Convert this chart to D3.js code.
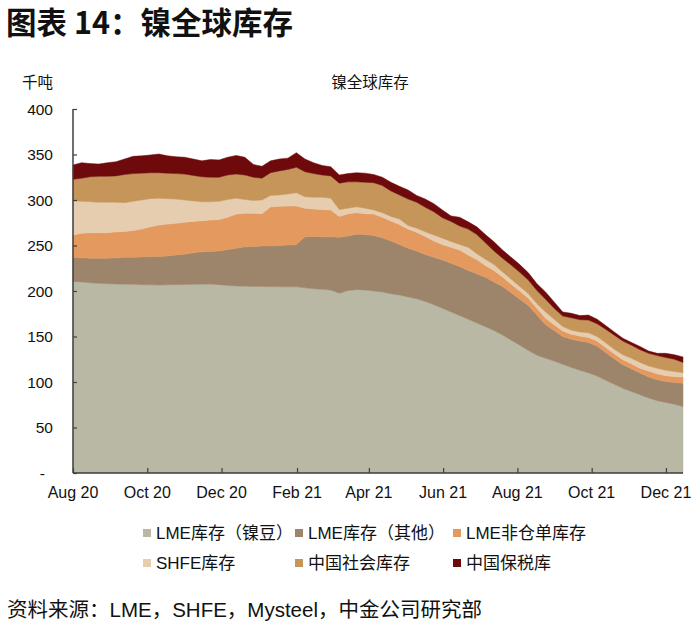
<!DOCTYPE html>
<html>
<head>
<meta charset="utf-8">
<script src="https://cdn.jsdelivr.net/npm/d3@7"></script>
<style>
  html, body { margin: 0; padding: 0; background: #fff; }
  svg { display: block; font-family: "Liberation Sans", Arial, "Noto Sans CJK SC", sans-serif; }
</style>
</head>
<body>
<svg id="chart" width="700" height="626"></svg>
<script>
// ---- Data (千吨), weekly-ish from Aug 2020 to mid-Dec 2021 ----
const seriesNames = ["LME库存（镍豆）", "LME库存（其他）", "LME非仓单库存", "SHFE库存", "中国社会库存", "中国保税库"];
const seriesColors = ["#b9b8a4", "#9d856b", "#e4995f", "#e7cdb0", "#c5955a", "#6e0a0c"];

const lmeBriquette = [210.5,210,209,208.5,208,207.8,207.5,207.3,207,206.8,206.6,206.8,207,207.2,207.3,207.5,207.6,207,206,205.5,
  205.3,205,205,204.8,204.7,204.7,204.6,203.5,202.5,202,201,197.5,200.5,201.5,201,200,199,197,195.6,193.5,
  191.5,188.5,185,181,177,173,169,164.8,160.6,156.5,151.7,146,140.5,134.5,129.5,126,123,119.5,116,113,
  110,106.5,102,97.5,93,89.5,86,82.5,79.5,77.5,75.5,73];
const lmeOther = [26.5,26.5,27,27.5,28,28.7,29.5,29.7,30.5,31,31.4,31.7,32.5,33.3,34.7,35.5,35.9,37,39.5,41.5,
  43.2,44,44.5,44.7,45.3,45.8,46.4,56.2,57.2,57.7,58.5,61.5,60,61,61,61,59.5,58,55.4,53.5,
  52.5,51.5,52,53,53.5,54,53.5,54.2,54.4,53.5,53.3,52,50.5,49.5,44,37,33.5,30.5,31,32,
  33.5,33,30.5,28,26,25,24,23,23,23,24,25.5];
const lmeOffWarrant = [24.5,26.9,28,28,28,28.5,28.5,29.5,30.5,32.7,34.5,35,35,35,34.5,34.3,34.5,34.5,35.5,37.6,
  37,36.5,35.5,43,43,42.8,42.4,31.3,30.3,29.8,29.5,23,24.5,23.5,23,23.6,22.5,22,22,21,
  20.5,20,18,17,17.5,18,17,15.5,13,12.5,10.5,9.5,9,8,7.5,7,6.5,6,5.5,5.5,
  5.5,5.5,5.5,5.5,5.5,5.5,5,6.5,6.5,6.5,6.5,7];
const shfe = [37.5,35.1,34,33.5,33.5,32.5,31.5,32,32,31,29.5,28,26.5,24.5,22.5,20.7,20,20,19.5,17.4,
  15,14,15,12.5,12.5,13.2,14.6,12.5,13,13.5,13,7.5,6,6.5,6,4.4,5,5,6,4,
  4.5,5,6.5,7,6.5,6,8.5,6.5,7,6.5,5.5,5.5,5,5,5,7,6,5,4.5,4.5,
  5,5,5,5,5.5,6,6.5,5.5,6,6,5.5,4.8];
const chinaSocial = [23.7,25.5,27.5,28.5,28.5,29,31,30.5,29.5,28.5,28,28,28,28.5,28,27.5,27,26.5,27,26.5,
  27,25.5,24,25,26.5,27,28,27.5,26,24.5,24.5,29,29,27.5,28.5,30,30,28,26.5,29,
  28.5,27,25.5,22.5,22,20.5,20,21,18,15,15,15.5,15.5,15,14.5,14,12,11.5,13.5,13.5,
  14,14,15,15.5,15,14.5,14,14,14,14,13.5,11.2];
const chinaBonded = [15.8,17,14.5,13.5,15,15.5,17,19,19,19.5,20.5,19,18.5,18.5,18,17.5,19.5,19,19.5,20.5,
  19.5,14,13,13,13,12.5,16,14,12,10.5,10,9,9,10,10,9,9,9.5,9.5,10,
  7.5,9,9,8.5,6,9.5,8,8.5,9,10,9,8.5,8.5,8,7.5,8,7,4.5,5,4.5,
  5.5,5,4,3.5,3,3,3.5,2.5,2.5,4.5,5,6];

const yTickValues = [0, 50, 100, 150, 200, 250, 300, 350, 400];
const yTickLabels = ["-", "50", "100", "150", "200", "250", "300", "350", "400"];
const xTickDates = ["2020-08-01","2020-10-01","2020-12-01","2021-02-01","2021-04-01","2021-06-01","2021-08-01","2021-10-01","2021-12-01"];
const xTickLabels = ["Aug 20","Oct 20","Dec 20","Feb 21","Apr 21","Jun 21","Aug 21","Oct 21","Dec 21"];

const startDate = new Date(2020, 7, 1);
const endDate = new Date(2021, 11, 15);

// ---- Build table ----
const allSeries = [lmeBriquette, lmeOther, lmeOffWarrant, shfe, chinaSocial, chinaBonded];
const n = lmeBriquette.length;
const spanMs = endDate - startDate;
const table = d3.range(n).map(i => {
  const row = { date: new Date(+startDate + spanMs * i / (n - 1)) };
  seriesNames.forEach((k, j) => row[k] = allSeries[j][i]);
  return row;
});

// ---- Layout ----
const svg = d3.select("#chart");
const plot = { left: 73, right: 683, top: 109, bottom: 473 };
const x = d3.scaleTime().domain([startDate, endDate]).range([plot.left, plot.right]);
const y = d3.scaleLinear().domain([0, 400]).range([plot.bottom, plot.top]);

// Title
svg.append("text").attr("x", 6).attr("y", 34)
  .attr("font-size", 30.5).attr("font-weight", "bold").attr("fill", "#111")
  .attr("font-family", "'Noto Sans CJK SC', sans-serif")
  .text("图表 14：镍全球库存");

svg.append("text").attr("x", 22).attr("y", 88)
  .attr("font-size", 15.5).attr("fill", "#111")
  .attr("font-family", "'Noto Sans CJK SC', sans-serif")
  .text("千吨");

svg.append("text").attr("x", 370).attr("y", 88)
  .attr("font-size", 15.5).attr("fill", "#111").attr("text-anchor", "middle")
  .attr("font-family", "'Noto Sans CJK SC', sans-serif")
  .text("镍全球库存");

// Stacked areas
const stack = d3.stack().keys(seriesNames);
const layers = stack(table);
const area = d3.area()
  .x(d => x(d.data.date))
  .y0(d => y(d[0]))
  .y1(d => y(d[1]));

svg.append("g").selectAll("path").data(layers).join("path")
  .attr("d", area)
  .attr("fill", (d, i) => seriesColors[i])
  .attr("stroke", (d, i) => seriesColors[i])
  .attr("stroke-width", 0.5);

// Y axis
const axisColor = "#3f3f3f";
const yAxis = d3.axisRight(y).tickValues(yTickValues).tickSize(4).tickFormat("");
const yg = svg.append("g").attr("transform", `translate(${plot.left},0)`).call(yAxis);
yg.select(".domain").remove();
yg.selectAll(".tick line").attr("stroke", axisColor).attr("stroke-width", 1.2);
svg.append("line").attr("x1", plot.left).attr("x2", plot.left)
  .attr("y1", y(400)).attr("y2", y(0)).attr("stroke", axisColor).attr("stroke-width", 1.5);
svg.append("g").selectAll("text").data(yTickValues).join("text")
  .attr("x", (d, i) => i === 0 ? 45 : 53)
  .attr("y", d => y(d) + 5.5)
  .attr("text-anchor", "end")
  .attr("font-size", 15.5).attr("fill", "#111")
  .text((d, i) => yTickLabels[i]);

// X axis
const parse = d3.timeParse("%Y-%m-%d");
const xTicks = xTickDates.map(parse);
const xAxis = d3.axisTop(x).tickValues(xTicks).tickSize(5).tickFormat("");
const xg = svg.append("g").attr("transform", `translate(0,${plot.bottom})`).call(xAxis);
xg.select(".domain").remove();
xg.selectAll(".tick line").attr("stroke", axisColor).attr("stroke-width", 1.2);
svg.append("line").attr("x1", plot.left).attr("x2", plot.right)
  .attr("y1", plot.bottom).attr("y2", plot.bottom).attr("stroke", axisColor).attr("stroke-width", 1.5);
svg.append("g").selectAll("text").data(xTicks).join("text")
  .attr("x", d => x(d)).attr("y", 498)
  .attr("text-anchor", "middle")
  .attr("font-size", 16).attr("fill", "#111")
  .text((d, i) => xTickLabels[i]);

// Legend
const legendX = [156, 308, 466];
const legendY = [533, 563];
const lg = svg.append("g");
seriesNames.forEach((name, i) => {
  const cx = legendX[i % 3], cy = legendY[Math.floor(i / 3)];
  lg.append("rect").attr("x", cx - 13).attr("y", cy - 4).attr("width", 8).attr("height", 8)
    .attr("fill", seriesColors[i]);
  lg.append("text").attr("x", cx).attr("y", cy + 6)
    .attr("font-size", 17).attr("fill", "#111")
    .text(name);
});

// Source
svg.append("text").attr("x", 7).attr("y", 617)
  .attr("font-size", 20.5).attr("fill", "#111")
  .text("资料来源：LME，SHFE，Mysteel，中金公司研究部");
</script>
</body>
</html>
